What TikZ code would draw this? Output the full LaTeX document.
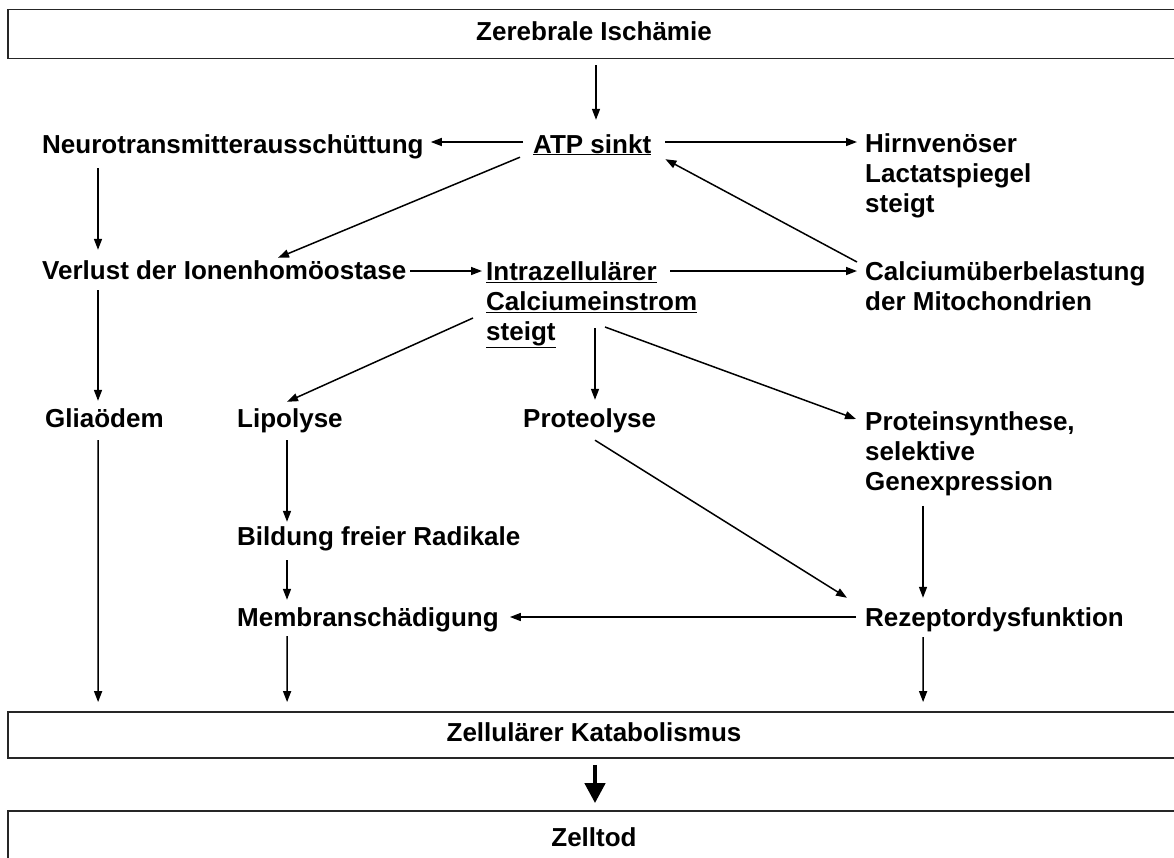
\documentclass[tikz,border=0pt]{standalone}
\usepackage{fontspec}
\setmainfont{Liberation Sans}
\usetikzlibrary{arrows.meta}
% strut that fixes the height of the first line of multi-line labels
\newcommand\fstrut{\rule{0pt}{20pt}}
\begin{document}
\begin{tikzpicture}[x=1pt,y=-1pt,
  txt/.style={inner sep=0pt, font=\fontsize{26}{30}\selectfont\bfseries},
  lbl/.style={txt, anchor=base west, text height=19pt, text depth=6pt},
  multi/.style={txt, anchor=north west, align=left},
  bar/.style={draw=black!85, line width=1.8pt, minimum width=1172pt, inner sep=0pt,
    font=\fontsize{26}{30}\selectfont\bfseries, text height=19pt, text depth=6pt},
  arr/.style={line width=1.5pt, -{Triangle[length=11pt,width=8pt]}},
  bigarr/.style={line width=4.5pt, -{Triangle[length=20pt,width=20pt]}}]

\clip (0,0) rectangle (1174,857);
\fill[white] (0,0) rectangle (1174,857);

% full-width boxes
\node[bar, minimum height=49pt] (top)  at (594,34)  {Zerebrale Ischämie};
\node[bar, minimum height=46pt] (zell) at (594,735) {Zellulärer Katabolismus};
\node[bar, minimum height=58pt] (tod)  at (594,840) {Zelltod};

% labels
\node[lbl] (atp)     at (533,153) {\underline{ATP sinkt}};
\node[lbl] (neuro)   at (42,153)  {Neurotransmitterausschüttung};
\node[multi] (hirn)  at (865,132) {\fstrut Hirnvenöser\\Lactatspiegel\\steigt};
\node[lbl] (verlust) at (42,279)  {Verlust der Ionenhomöostase};
\node[multi] (intra) at (486,260) {\fstrut\underline{Intrazellulärer}\\\underline{Calciumeinstrom}\\\underline{steigt}};
\node[multi] (mito)  at (865,260) {\fstrut Calciumüberbelastung\\der Mitochondrien};
\node[lbl] (glia)    at (45,427)  {Gliaödem};
\node[lbl] (lipo)    at (237,427) {Lipolyse};
\node[lbl] (proteo)  at (523,427) {Proteolyse};
\node[multi] (protein) at (865,410) {\fstrut Proteinsynthese,\\selektive\\Genexpression};
\node[lbl] (bildung) at (237,545) {Bildung freier Radikale};
\node[lbl] (membran) at (237,626) {Membranschädigung};
\node[lbl] (rez)     at (865,626) {Rezeptordysfunktion};

% connectors
\draw[arr] ([shift={(2,6)}]top.south) -- ([xshift=2pt,yshift=14pt]top.south |- atp.north);
\draw[arr] ([shift={(-10,-4.5)}]atp.west) -- ([shift={(7,-4.5)}]neuro.east);
\draw[arr] ([shift={(14,-4.5)}]atp.east) -- ([shift={(-8,10)}]hirn.north west);
\draw[arr] ([shift={(-13,-2)}]atp.south west) -- ([shift={(236,-2)}]verlust.north west);
\draw[arr] ([shift={(-8,2)}]mito.north west) -- ([shift={(14,0)}]atp.south east);
\draw[arr] ([shift={(56,9)}]neuro.south west) -- ([shift={(56,-10)}]verlust.north west);
\draw[arr] ([shift={(4,-1.5)}]verlust.east) -- ([shift={(-4,11)}]intra.north west);
\draw[arr] ([shift={(184,11)}]intra.north west) -- ([shift={(-8,11)}]mito.north west);
\draw[arr] ([shift={(56,5)}]verlust.south west) -- ([shift={(53,-7)}]glia.north west);
\draw[arr] ([shift={(-13,58)}]intra.north west) -- ([shift={(50,-6)}]lipo.north west);
\draw[arr] ([shift={(109,68)}]intra.north west) -- ([shift={(72,-8)}]proteo.north west);
\draw[arr] ([shift={(119,67)}]intra.north west) -- ([shift={(-9,9)}]protein.north west);
\draw[arr] ([shift={(53,7)}]glia.south west) -- ([shift={(91,-9)}]zell.north west);
\draw[arr] ([shift={(50,7)}]lipo.south west) -- ([shift={(50,-4)}]bildung.north west);
\draw[arr] ([shift={(50,9)}]bildung.south west) -- ([shift={(50,-7)}]membran.north west);
\draw[arr] ([shift={(72,7)}]proteo.south west) -- ([shift={(-18,-9)}]rez.north west);
\draw[arr] ([shift={(58,10)}]protein.south west) -- ([shift={(58,-9)}]rez.north west);
\draw[arr] ([shift={(-9,-2.5)}]rez.west) -- ([shift={(11,-2.5)}]membran.east);
\draw[arr] ([shift={(50,4)}]membran.south west) -- ([shift={(280,-9)}]zell.north west);
\draw[arr] ([shift={(58,5)}]rez.south west) -- ([shift={(916,-9)}]zell.north west);
\draw[bigarr] ([shift={(1,6)}]zell.south) -- ([shift={(1,-7)}]tod.north);
\end{tikzpicture}
\end{document}
